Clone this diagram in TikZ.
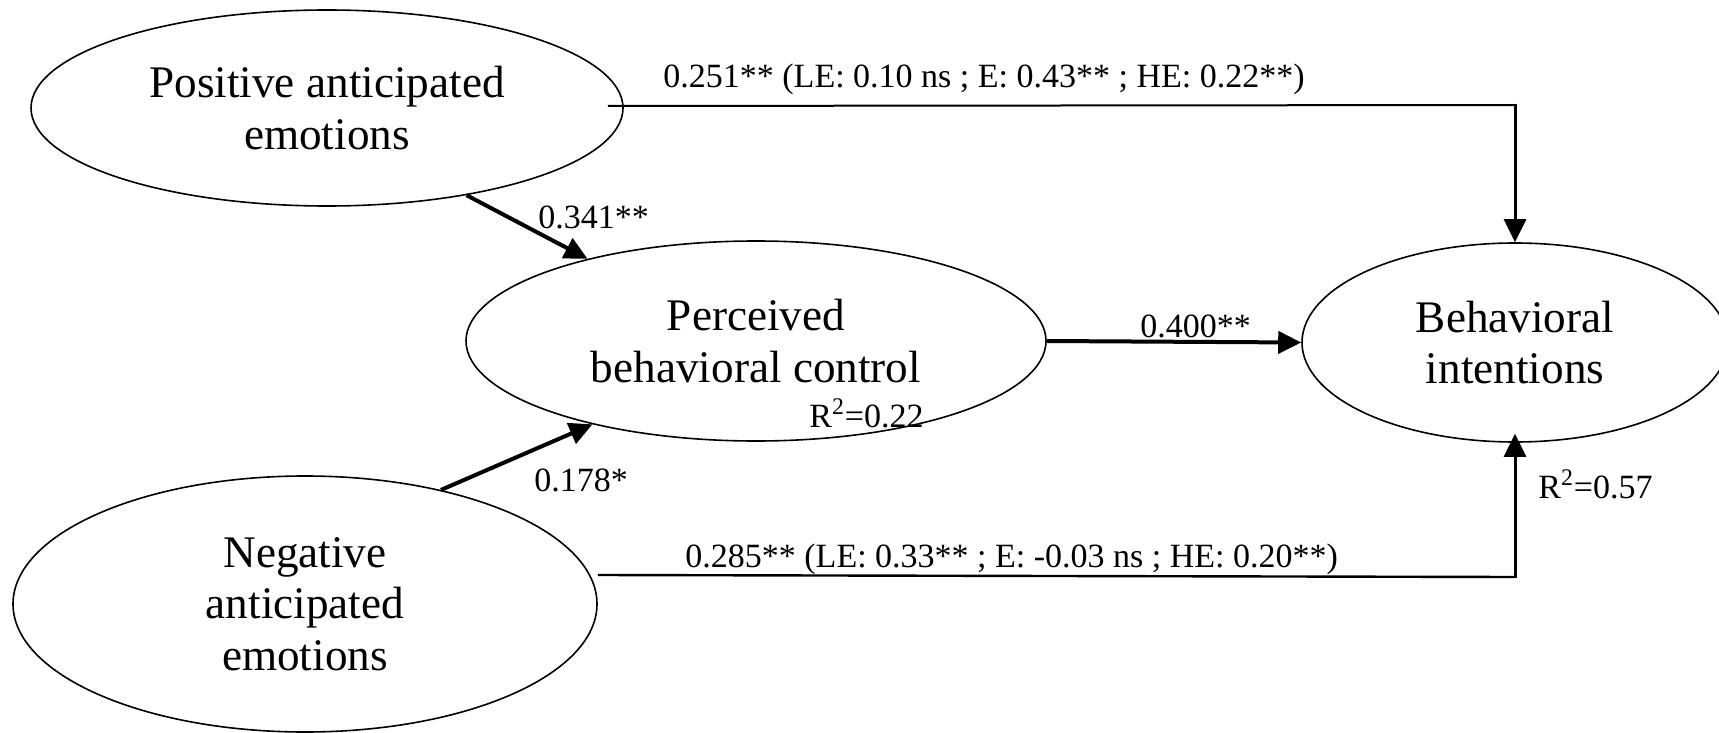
\documentclass[tikz,border=0pt]{standalone}
\usepackage{fontspec}
\setmainfont{Liberation Serif}
\usetikzlibrary{arrows.meta,shapes.geometric}
\tikzset{
  construct/.style={ellipse, draw=black, line width=0.8pt, inner sep=0pt, align=center,
    font=\fontsize{22.6pt}{25.8pt}\selectfont},
  coef/.style={inner sep=0pt, anchor=base west, font=\fontsize{17pt}{20pt}\selectfont},
  tip/.style={-{Triangle[length=11.5pt,width=11pt]}},
  thinpath/.style={line width=1pt},
  midpath/.style={line width=1.5pt},
  thickpath/.style={line width=2pt},
}
\begin{document}
\begin{tikzpicture}[x=0.5pt,y=-0.5pt]
\useasboundingbox (0,0) rectangle (1719,733);
% constructs
\node[construct, minimum width=296pt, minimum height=98pt] (Pos) at (327,108) {Positive anticipated\\emotions};
\node[construct, minimum width=290pt, minimum height=100pt] (PBC) at (756,341) {Perceived\\behavioral control};
\node[construct, minimum width=213pt, minimum height=99.5pt] (BI) at (1515,342.5) {Behavioral\\intentions};
\node[construct, minimum width=292pt, minimum height=128pt] (Neg) at (305,604) {Negative\\anticipated\\emotions};
% corner points
\coordinate (c1) at (1515,105);
\coordinate (c2) at (1515,577);
% connectors
\draw[thinpath] ([xshift=-8pt,yshift=1pt]Pos.east) -- (c1);
\draw[midpath,tip] ([yshift=0.6pt]c1) -- (BI.north);
\draw[thinpath,line width=1.2pt] ([yshift=14.5pt]Neg.east) -- (c2);
\draw[midpath,tip,shorten >=-4.5pt] ([yshift=-0.6pt]c2) -- (BI.south);
\draw[thickpath,tip] (PBC.east) -- (BI.west);
\draw[thickpath,tip] (Pos.-32.6) -- (PBC.154);
\draw[thickpath,tip] (Neg.40) -- (PBC.207);
% coefficients
\node[coef] (l1) at (663,88) {0.251** (LE: 0.10 ns ; E: 0.43** ; HE: 0.22**)};
\node[coef] (l2) at (685,567) {0.285** (LE: 0.33** ; E: -0.03 ns ; HE: 0.20**)};
\node[coef] (l3) at (1140,337) {0.400**};
\node[coef] (l4) at (538,228) {0.341**};
\node[coef] (l5) at (534,491) {0.178*};
\node[coef] (l6) at (809,427) {R\textsuperscript{2}=0.22};
\node[coef] (l7) at (1538,498) {R\textsuperscript{2}=0.57};
\end{tikzpicture}
\end{document}
